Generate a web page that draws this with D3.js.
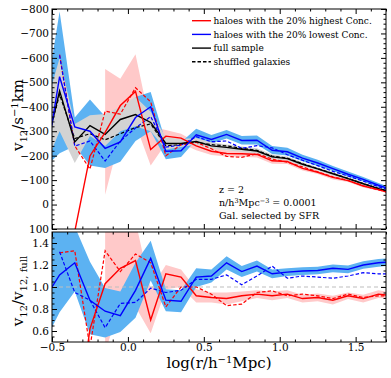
<!DOCTYPE html>
<html>
<head>
<meta charset="utf-8">
<script src="https://cdn.jsdelivr.net/npm/d3@7"></script>
<style>
  body { margin: 0; background: #fff; }
  text { font-family: "DejaVu Serif", serif; fill: #000; }
</style>
</head>
<body>
<svg id="chart" width="391" height="378"></svg>
<script>
// bin centres in log(r / h^-1 Mpc)
const logR = [-0.55, -0.45, -0.35, -0.25, -0.15, -0.05, 0.05, 0.15, 0.25, 0.35, 0.45, 0.55,
              0.65, 0.75, 0.85, 0.95, 1.05, 1.15, 1.25, 1.35, 1.45, 1.55, 1.65, 1.75];

// top panel: v12 in km/s
const fullV    = [-200, -465, -256, -323, -287, -348, -368, -336, -250, -250, -258, -240, -234, -226, -219, -195, -188, -165, -146, -126, -106, -85, -65, -48];
const fullTop  = [-380, -600, -330, -365, -370, -400, -440, -380, -275, -268, -272, -255, -246, -238, -230, -205, -197, -173, -153, -133, -112, -91, -70, -52];
const fullBot  = [-150, -300, -170, -280, -240, -300, -320, -300, -225, -235, -245, -228, -222, -215, -208, -185, -180, -157, -139, -119, -100, -79, -60, -44];
const fullShuf = [-220, -450, -270, -290, -265, -290, -315, -330, -240, -245, -255, -245, -240, -230, -222, -198, -190, -167, -147, -127, -107, -86, -66, -49];

const highV    = [null, null, 110, -199, -295, -405, -463, -225, -280, -272, -240, -218, -209, -208, -205, -179, -176, -148, -132, -111, -98, -76, -61, -44];
const highTop  = [null, null, null, null, -555, -515, -615, -320, -305, -290, -255, -232, -222, -220, -217, -191, -186, -157, -139, -120, -104, -82, -66, -48];
const highBot  = [null, null, null, null, -40, -280, -330, -160, -250, -250, -222, -203, -197, -196, -193, -167, -166, -139, -125, -102, -92, -70, -56, -40];
const highShuf = [null, -613, -240, -145, -382, -370, -478, -420, -200, -245, -255, -228, -197, -193, -208, -186, -173, -154, -134, -113, -99, -77, -60, -44];

const lowV     = [-140, -523, -318, -300, -230, -256, -356, -400, -218, -220, -285, -266, -287, -262, -263, -222, -216, -190, -170, -147, -124, -103, -79, -59];
const lowTop   = [-400, -790, -356, -430, -360, -310, -440, -460, -255, -255, -310, -285, -305, -280, -282, -240, -232, -204, -183, -158, -135, -113, -88, -66];
const lowBot   = [-150, -210, -240, -160, -150, -175, -260, -300, -185, -195, -265, -250, -270, -246, -246, -207, -201, -177, -158, -137, -114, -94, -71, -53];
const lowShuf  = [null, -610, -239, -260, -178, -260, -313, -360, -235, -243, -278, -257, -260, -230, -241, -232, -204, -181, -159, -136, -117, -96, -73, -54];

// bottom panel: ratio to the full sample
const highRatio     = [null, null, -0.4, 0.62, 1.03, 1.17, 1.24, 0.70, 1.12, 1.09, 0.92, 0.905, 0.895, 0.92, 0.935, 0.92, 0.935, 0.895, 0.905, 0.88, 0.92, 0.895, 0.935, 0.92];
const highRatioTop  = [null, null, null, null, 1.6, 1.6, 1.6, 0.98, 1.20, 1.16, 0.98, 0.95, 0.95, 0.96, 0.97, 0.96, 0.97, 0.93, 0.94, 0.92, 0.95, 0.93, 0.97, 0.95];
const highRatioBot  = [null, null, null, null, 0.4, 0.86, 0.82, 0.58, 0.98, 1.0, 0.86, 0.86, 0.84, 0.87, 0.90, 0.88, 0.90, 0.86, 0.87, 0.84, 0.89, 0.86, 0.90, 0.89];
const highShufRatio = [null, 1.31, 1.33, 0.45, 1.33, 1.14, 1.30, 1.22, 0.82, 1.0, 1.0, 0.935, 0.83, 0.845, 0.95, 0.965, 0.92, 0.935, 0.92, 0.895, 0.935, 0.905, 0.92, 0.92];

const lowRatio      = [0.89, 1.11, 1.22, 0.88, 0.78, 0.74, 0.97, 1.26, 0.88, 0.87, 1.09, 1.10, 1.22, 1.14, 1.19, 1.12, 1.135, 1.145, 1.15, 1.17, 1.16, 1.20, 1.22, 1.23];
const lowRatioTop   = [1.6, 1.6, 1.55, 1.23, 0.99, 0.96, 1.22, 1.42, 0.98, 0.97, 1.17, 1.16, 1.28, 1.19, 1.24, 1.16, 1.17, 1.18, 1.185, 1.205, 1.195, 1.235, 1.255, 1.265];
const lowRatioBot   = [0.5, 0.77, 0.96, 0.57, 0.54, 0.59, 0.72, 1.06, 0.78, 0.77, 1.0, 1.04, 1.16, 1.09, 1.14, 1.08, 1.10, 1.11, 1.115, 1.135, 1.125, 1.165, 1.185, 1.195];
const lowShufRatio  = [null, 1.32, 0.95, 0.88, 0.63, 0.85, 0.86, 0.99, 0.95, 0.97, 1.07, 1.07, 1.11, 1.02, 1.10, 1.19, 1.08, 1.10, 1.09, 1.08, 1.10, 1.13, 1.12, 1.12];

const legendLabels = ["haloes with the 20% highest Conc.", "haloes with the 20% lowest Conc.", "full sample", "shuffled galaxies"];

const RED = "#ff0000", BLUE = "#0000ff", PINK = "#ffc9c9", SKY = "#5cb2f2", GREY = "#d3d3d3";

const svg = d3.select("#chart");
const x = d3.scaleLinear().domain([-0.5, 1.7]).range([52, 386]);
const yTop = d3.scaleLinear().domain([100, -800]).range([229, 9]);
const yBot = d3.scaleLinear().domain([0.5, 1.5]).range([342, 232]);

const zip = (a, b) => logR.map((r, i) => ({r, a: a[i], b: b ? b[i] : null}));

function panel(id, y) {
  const [r0, r1] = x.range(), [b0, b1] = y.range();
  svg.append("clipPath").attr("id", id).append("rect")
    .attr("x", r0).attr("y", b1).attr("width", r1 - r0).attr("height", b0 - b1);
  return svg.append("g").attr("clip-path", `url(#${id})`);
}

function band(g, y, lo, hi, color) {
  g.append("path").datum(zip(lo, hi))
    .attr("fill", color)
    .attr("d", d3.area().defined(d => d.a != null && d.b != null)
      .x(d => x(d.r)).y0(d => y(d.a)).y1(d => y(d.b)));
}

function curve(g, y, vals, color, dashed) {
  g.append("path").datum(zip(vals))
    .attr("fill", "none").attr("stroke", color)
    .attr("stroke-width", dashed ? 1.2 : 1.4)
    .attr("stroke-dasharray", dashed ? "3.5,2" : null)
    .attr("d", d3.line().defined(d => d.a != null).x(d => x(d.r)).y(d => y(d.a)));
}

function frame(y, yMaj, yMin, yFmt, xLabels) {
  const [r0, r1] = x.range(), [b0, b1] = y.range();
  const xMaj = [-0.5, 0, 0.5, 1.0, 1.5];
  const xMin = d3.range(-0.4, 1.71, 0.1).filter(v => !xMaj.some(m => Math.abs(m - v) < 1e-6));
  const ax = svg.append("g");
  const put = (tr, axis) => {
    const a = ax.append("g").attr("transform", tr).call(axis);
    a.select(".domain").remove();
    a.selectAll("text").attr("font-family", "DejaVu Serif").attr("font-size", 10.5);
    return a;
  };
  put(`translate(${r0},0)`, d3.axisLeft(y).tickValues(yMaj).tickSize(-5).tickPadding(3).tickFormat(yFmt));
  put(`translate(${r0},0)`, d3.axisLeft(y).tickValues(yMin).tickSize(-2.5).tickFormat(""));
  put(`translate(${r1},0)`, d3.axisRight(y).tickValues(yMaj).tickSize(-5).tickFormat(""));
  put(`translate(${r1},0)`, d3.axisRight(y).tickValues(yMin).tickSize(-2.5).tickFormat(""));
  put(`translate(0,${b0})`, d3.axisBottom(x).tickValues(xMaj).tickSize(-5).tickPadding(2)
    .tickFormat(xLabels ? d3.format(".1f") : ""));
  put(`translate(0,${b0})`, d3.axisBottom(x).tickValues(xMin).tickSize(-2.5).tickFormat(""));
  put(`translate(0,${b1})`, d3.axisTop(x).tickValues(xMaj).tickSize(-5).tickFormat(""));
  put(`translate(0,${b1})`, d3.axisTop(x).tickValues(xMin).tickSize(-2.5).tickFormat(""));
  svg.append("rect").attr("x", r0).attr("y", b1).attr("width", r1 - r0).attr("height", b0 - b1)
    .attr("fill", "none").attr("stroke", "#000").attr("stroke-width", 1);
}

// ---- top panel
const gt = panel("clipTop", yTop);
band(gt, yTop, highTop, highBot, PINK);
band(gt, yTop, lowTop, lowBot, SKY);
band(gt, yTop, fullTop, fullBot, GREY);
curve(gt, yTop, fullShuf, "#000", true);
curve(gt, yTop, highShuf, RED, true);
curve(gt, yTop, lowShuf, BLUE, true);
curve(gt, yTop, fullV, "#000", false);
curve(gt, yTop, highV, RED, false);
curve(gt, yTop, lowV, BLUE, false);
frame(yTop, d3.range(-800, 101, 100), d3.range(-780, 100, 20).filter(v => v % 100 !== 0),
      d3.format("d"), false);

// ---- bottom panel
const gb = panel("clipBot", yBot);
band(gb, yBot, highRatioBot, highRatioTop, PINK);
band(gb, yBot, lowRatioBot, lowRatioTop, SKY);
gb.append("line").attr("x1", x.range()[0]).attr("x2", x.range()[1])
  .attr("y1", yBot(1)).attr("y2", yBot(1))
  .attr("stroke", "#bdbdbd").attr("stroke-width", 1.2).attr("stroke-dasharray", "4,3");
curve(gb, yBot, highShufRatio, RED, true);
curve(gb, yBot, lowShufRatio, BLUE, true);
curve(gb, yBot, highRatio, RED, false);
curve(gb, yBot, lowRatio, BLUE, false);
frame(yBot, [0.6, 0.8, 1.0, 1.2, 1.4], d3.range(0.55, 1.5, 0.05).filter(v => Math.abs(v * 5 - Math.round(v * 5)) > 1e-6),
      d3.format(".1f"), true);

// ---- legend
const leg = svg.append("g").attr("font-size", 9);
const legStyle = [[RED, null], [BLUE, null], ["#000", null], ["#000", "3.5,2"]];
legendLabels.forEach((t, i) => {
  const yy = 20.7 + i * 13.7;
  leg.append("line").attr("x1", 192).attr("x2", 211).attr("y1", yy).attr("y2", yy)
    .attr("stroke", legStyle[i][0]).attr("stroke-width", 1.4).attr("stroke-dasharray", legStyle[i][1]);
  leg.append("text").attr("x", 213.5).attr("y", yy + 3.2).text(t);
});

// ---- annotation
const ann = svg.append("g").attr("font-size", 9.5);
ann.append("text").attr("x", 219).attr("y", 193).text("z = 2");
const t2 = ann.append("text").attr("x", 219).attr("y", 206);
t2.append("tspan").text("n/h");
t2.append("tspan").attr("dy", -3.5).attr("font-size", 6.5).text("3");
t2.append("tspan").attr("dy", 3.5).text("Mpc");
t2.append("tspan").attr("dy", -3.5).attr("font-size", 6.5).text("−3");
t2.append("tspan").attr("dy", 3.5).text(" = 0.0001");
ann.append("text").attr("x", 219).attr("y", 218.5).text("Gal. selected by SFR");

// ---- axis labels
const xl = svg.append("text").attr("x", 219).attr("y", 368).attr("text-anchor", "middle").attr("font-size", 15);
xl.append("tspan").text("log(r/h");
xl.append("tspan").attr("dy", -5.5).attr("font-size", 10).text("−1");
xl.append("tspan").attr("dy", 5.5).text("Mpc)");

const yl1 = svg.append("text").attr("transform", "translate(23,115) rotate(-90)")
  .attr("text-anchor", "middle").attr("font-size", 15);
yl1.append("tspan").text("v");
yl1.append("tspan").attr("dy", 3.5).attr("font-size", 10).text("12");
yl1.append("tspan").attr("dy", -3.5).text("/s");
yl1.append("tspan").attr("dy", -5.5).attr("font-size", 10).text("−1");
yl1.append("tspan").attr("dy", 5.5).text("km");

const yl2 = svg.append("text").attr("transform", "translate(23,291) rotate(-90)")
  .attr("text-anchor", "middle").attr("font-size", 15);
yl2.append("tspan").text("v");
yl2.append("tspan").attr("dy", 3.5).attr("font-size", 10).text("12");
yl2.append("tspan").attr("dy", -3.5).text("/v");
yl2.append("tspan").attr("dy", 3.5).attr("font-size", 10).text("12, full");
</script>
</body>
</html>
